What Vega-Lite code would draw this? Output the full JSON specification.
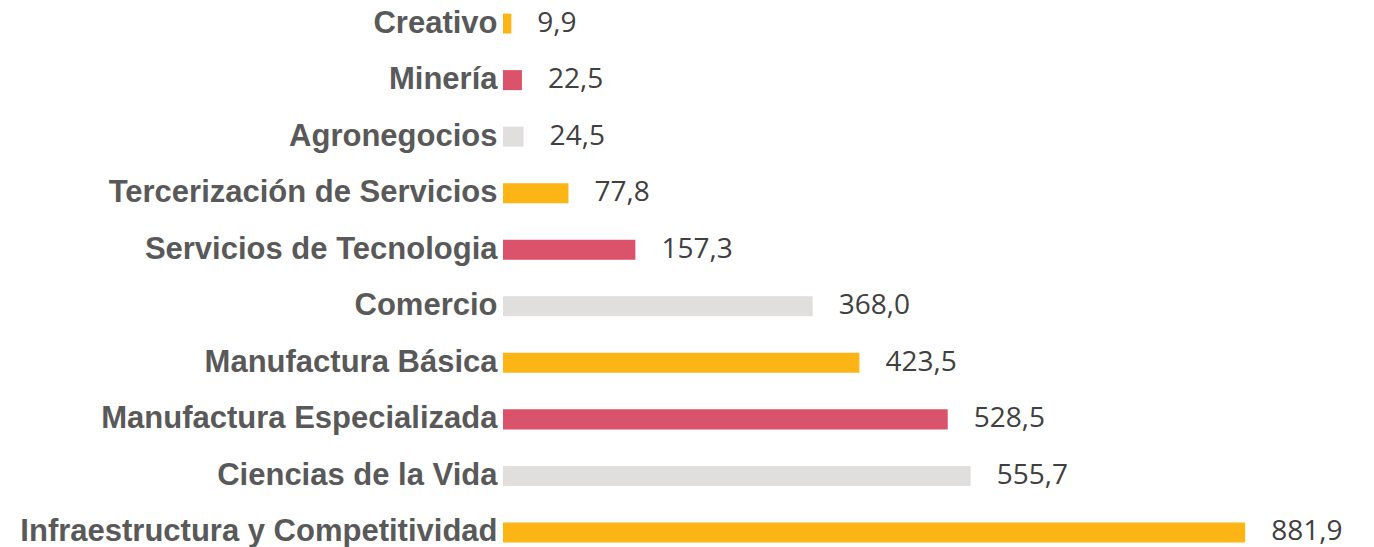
{
  "$schema": "https://vega.github.io/schema/vega-lite/v6.json",
  "autosize": {"type": "none"},
  "width": 871,
  "height": 547,
  "padding": {"left": 503, "top": 0, "right": 0, "bottom": 0},
  "background": "white",
  "config": {"view": {"stroke": null}},
  "data": {
    "values": [
      {"sector": "Creativo", "valor": 9.9},
      {"sector": "Minería", "valor": 22.5},
      {"sector": "Agronegocios", "valor": 24.5},
      {"sector": "Tercerización de Servicios", "valor": 77.8},
      {"sector": "Servicios de Tecnologia", "valor": 157.3},
      {"sector": "Comercio", "valor": 368.0},
      {"sector": "Manufactura Básica", "valor": 423.5},
      {"sector": "Manufactura Especializada", "valor": 528.5},
      {"sector": "Ciencias de la Vida", "valor": 555.7},
      {"sector": "Infraestructura y Competitividad", "valor": 881.9}
    ]
  },
  "encoding": {
    "y": {
      "field": "sector",
      "type": "nominal",
      "sort": null,
      "scale": {"paddingInner": 0.646, "paddingOuter": 0.16, "align": 0.75},
      "axis": {
        "title": null,
        "ticks": false,
        "domain": false,
        "labelPadding": 6,
        "labelFont": "Liberation Sans",
        "labelFontWeight": "bold",
        "labelFontSize": 31,
        "labelColor": "#595959",
        "labelLimit": 600
      }
    }
  },
  "layer": [
    {
      "mark": {"type": "bar"},
      "encoding": {
        "x": {
          "field": "valor",
          "type": "quantitative",
          "scale": {"domain": [0, 1035], "nice": false},
          "axis": null
        },
        "color": {
          "field": "sector",
          "type": "nominal",
          "legend": null,
          "scale": {
            "domain": ["Creativo", "Minería", "Agronegocios", "Tercerización de Servicios", "Servicios de Tecnologia", "Comercio", "Manufactura Básica", "Manufactura Especializada", "Ciencias de la Vida", "Infraestructura y Competitividad"],
            "range": ["#FCB515", "#DB536A", "#E0DFDE", "#FCB515", "#DB536A", "#E0DFDE", "#FCB515", "#DB536A", "#E0DFDE", "#FCB515"]
          }
        }
      }
    },
    {
      "mark": {"type": "text", "align": "left", "baseline": "middle", "dx": 26, "dy": 0, "font": "Open Sans", "fontSize": 28, "color": "#404040"},
      "encoding": {
        "x": {"field": "valor", "type": "quantitative"},
        "text": {"field": "valor", "type": "quantitative", "format": ".1f", "formatType": "number"}
      }
    }
  ],
  "usermeta": {"embedOptions": {"formatLocale": {"decimal": ",", "thousands": ".", "grouping": [3], "currency": ["", " €"]}}}
}
